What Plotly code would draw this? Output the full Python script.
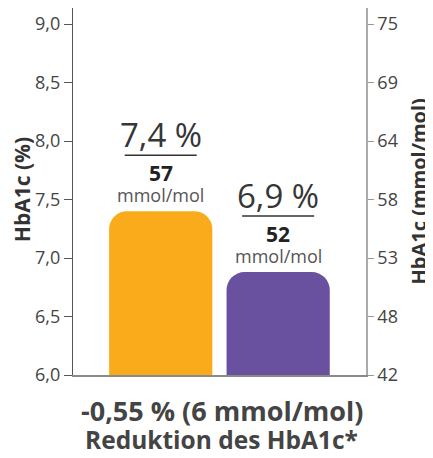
import plotly.graph_objects as go

categories = ["A", "B"]
hba1c_pct = [7.4, 6.88]
pct_labels = ["7,4 %", "6,9 %"]
mmol_labels = ["57", "52"]
bar_colors = ["#F9AB1C", "#6A51A0"]
left_ticks = [6.0, 6.5, 7.0, 7.5, 8.0, 8.5, 9.0]
left_ticktext = ["6,0", "6,5", "7,0", "7,5", "8,0", "8,5", "9,0"]
right_ticktext = ["42", "48", "53", "58", "64", "69", "75"]

FONT = "Open Sans"

fig = go.Figure()
fig.add_trace(go.Bar(
    x=categories, y=hba1c_pct, base=0,
    marker=dict(color=bar_colors, cornerradius=18, line=dict(width=0)),
    width=0.879, hoverinfo="skip",
))
fig.add_trace(go.Scatter(x=categories, y=hba1c_pct, yaxis="y2", mode="markers",
                         marker=dict(opacity=0), hoverinfo="skip", showlegend=False))

annotations = []
shapes = []
for i, (c, v) in enumerate(zip(categories, hba1c_pct)):
    annotations.append(dict(x=c, y=v, xref="x", yref="y", text=pct_labels[i], showarrow=False,
                            yshift=77, font=dict(family=FONT, size=33, color="#363636")))
    annotations.append(dict(x=c, y=v, xref="x", yref="y", text="<b>" + mmol_labels[i] + "</b>",
                            showarrow=False, yshift=38,
                            font=dict(family=FONT, size=21, color="#222222")))
    annotations.append(dict(x=c, y=v, xref="x", yref="y", text="mmol/mol", showarrow=False,
                            yshift=16, font=dict(family=FONT, size=18, color="#555555")))
    shapes.append(dict(type="line", xref="x", yref="y", xsizemode="pixel", ysizemode="pixel",
                       xanchor=i, yanchor=v, x0=-36, x1=36, y0=56, y1=56,
                       line=dict(color="#333333", width=1.5)))

annotations += [
    dict(xref="paper", yref="paper", x=(13.5 - 65) / 293, y=0.505, xanchor="center", yanchor="middle",
         text="<b>HbA1c (%)</b>", textangle=-90,
         showarrow=False, font=dict(family=FONT, size=21, color="#333333")),
    dict(xref="paper", yref="paper", x=(410 - 65) / 293, y=0.5, xanchor="center", yanchor="middle",
         text="<b>HbA1c (mmol/mol)</b>", textangle=-90,
         showarrow=False, font=dict(family=FONT, size=20, color="#333333")),
    dict(xref="paper", yref="paper", x=0.5085, y=-0.0954, xanchor="center", yanchor="middle",
         text="<b>-0,55 % (6 mmol/mol)</b>", showarrow=False,
         font=dict(family=FONT, size=27, color="#444444")),
    dict(xref="paper", yref="paper", x=0.5085, y=-0.177, xanchor="center", yanchor="middle",
         text="<b>Reduktion des HbA1c*</b>", showarrow=False,
         font=dict(family=FONT, size=24.5, color="#444444")),
]

fig.update_layout(
    width=425, height=450,
    margin=dict(l=65, r=67, t=0, b=83),
    paper_bgcolor="white", plot_bgcolor="white",
    showlegend=False,
    font=dict(family=FONT, color="#444444"),
    xaxis=dict(type="category", range=[-0.747, 1.748], showticklabels=False, ticks="",
               showgrid=False, zeroline=False, showline=True, linecolor="#8a8a8a", linewidth=1.5),
    yaxis=dict(range=[6.0, 9.137], tickvals=left_ticks, ticktext=left_ticktext,
               ticks="outside", ticklen=8, tickcolor="#555555", tickwidth=1.2,
               showline=True, linecolor="#555555", linewidth=1.2, showgrid=False, zeroline=False,
               tickfont=dict(family=FONT, size=18, color="#444444")),
    yaxis2=dict(range=[6.0, 9.137], overlaying="y", side="right", tickvals=left_ticks,
                ticktext=right_ticktext, ticks="outside", ticklen=6, tickcolor="#999999",
                tickwidth=1.2, showline=True, linecolor="#aaaaaa", linewidth=1.5,
                showgrid=False, zeroline=False,
                tickfont=dict(family=FONT, size=18, color="#444444")),
    annotations=annotations,
    shapes=shapes,
)

fig.write_html("out.html")
